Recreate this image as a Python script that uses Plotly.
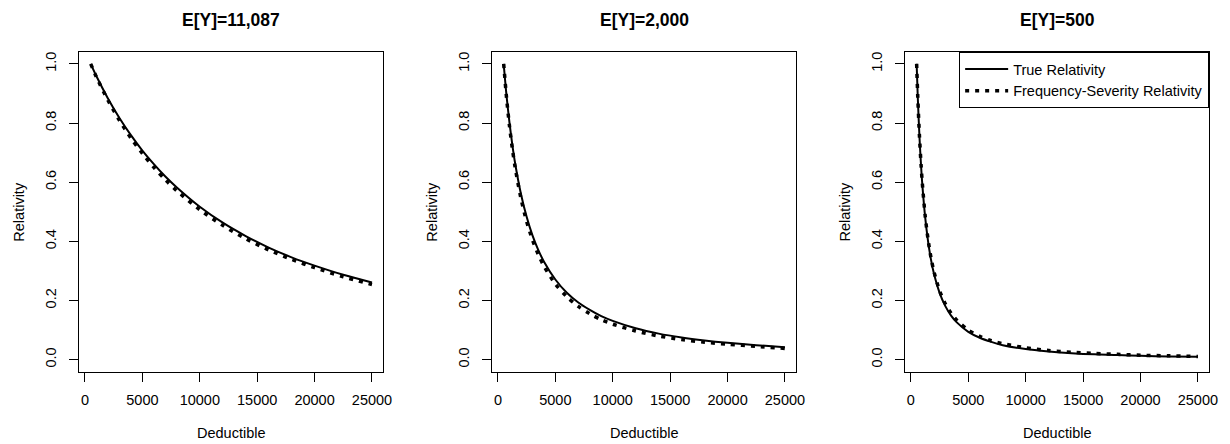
import plotly.graph_objects as go

# ---- data ----
titles = ["E[Y]=11,087", "E[Y]=2,000", "E[Y]=500"]

ded1 = [500, 1000, 2000, 3000, 4000, 5000, 6000, 7000, 8000, 10000, 12000, 14000,
        16000, 18000, 20000, 22500, 25000]
true1 = [1.000, 0.958, 0.883, 0.817, 0.759, 0.707, 0.661, 0.619, 0.582, 0.517, 0.463,
         0.418, 0.379, 0.346, 0.318, 0.287, 0.261]
fs1 = [1.000, 0.955, 0.877, 0.809, 0.749, 0.697, 0.650, 0.608, 0.571, 0.507, 0.454,
       0.409, 0.371, 0.339, 0.311, 0.280, 0.254]

ded2 = [500, 750, 1000, 1250, 1500, 2000, 2500, 3000, 3500, 4000, 5000, 6000, 7000,
        8000, 9000, 10000, 12000, 14000, 16000, 18000, 20000, 22500, 25000]
true2 = [1.000, 0.892, 0.803, 0.727, 0.663, 0.561, 0.483, 0.421, 0.372, 0.332, 0.271,
         0.226, 0.193, 0.168, 0.147, 0.131, 0.106, 0.088, 0.075, 0.065, 0.057, 0.049, 0.042]
fs2 = [1.000, 0.885, 0.792, 0.715, 0.650, 0.546, 0.467, 0.406, 0.357, 0.317, 0.256,
       0.213, 0.180, 0.155, 0.135, 0.120, 0.097, 0.080, 0.068, 0.059, 0.052, 0.045, 0.038]

ded3 = [500, 600, 750, 900, 1000, 1250, 1500, 1750, 2000, 2500, 3000, 3500, 4000, 5000,
        6000, 7000, 8000, 10000, 12000, 14000, 16000, 18000, 20000, 22500, 25000]
true3 = [1.000, 0.886, 0.750, 0.646, 0.589, 0.479, 0.399, 0.338, 0.292, 0.226, 0.181,
         0.149, 0.126, 0.094, 0.074, 0.060, 0.049, 0.036, 0.028, 0.022, 0.018, 0.016,
         0.013, 0.011, 0.010]
fs3 = [1.000, 0.887, 0.753, 0.650, 0.594, 0.484, 0.405, 0.345, 0.299, 0.233, 0.189,
       0.157, 0.133, 0.100, 0.079, 0.064, 0.054, 0.040, 0.031, 0.025, 0.021, 0.018,
       0.015, 0.013, 0.011]

x_ticks = [0, 5000, 10000, 15000, 20000, 25000]
y_ticks = [0.0, 0.2, 0.4, 0.6, 0.8, 1.0]
y_tick_labels = ["0.0", "0.2", "0.4", "0.6", "0.8", "1.0"]
legend_names = ["True Relativity", "Frequency-Severity Relativity"]

panels = [(ded1, true1, fs1), (ded2, true2, fs2), (ded3, true3, fs3)]

# ---- layout geometry (page body adds an 8px margin, compensate) ----
OFF = 8
W, H = 1230, 444
FONT = "Liberation Sans, Arial, Helvetica, sans-serif"
FS = 14.5
box_left = [80 - OFF, 496 - OFF, 912 - OFF]
box_w = 306
box_top, box_bot = 52 - OFF, 371.5 - OFF

fig = go.Figure()
for i, (d, t, f) in enumerate(panels):
    ax = "" if i == 0 else str(i + 1)
    show = (i == 2)
    fig.add_trace(go.Scatter(x=d, y=t, mode="lines", name=legend_names[0],
                             line=dict(color="black", width=2, shape="spline", smoothing=0.8),
                             xaxis="x" + ax, yaxis="y" + ax, showlegend=show,
                             hoverinfo="skip"))
    fig.add_trace(go.Scatter(x=d, y=f, mode="lines", name=legend_names[1],
                             line=dict(color="black", width=3.5, dash="4px,6px",
                                       shape="spline", smoothing=0.8),
                             xaxis="x" + ax, yaxis="y" + ax, showlegend=show,
                             hoverinfo="skip"))

layout = dict(
    width=W, height=H,
    margin=dict(l=0, r=0, t=0, b=0),
    paper_bgcolor="white", plot_bgcolor="white",
    font=dict(family=FONT, size=FS, color="black"),
    showlegend=True,
    legend=dict(x=(box_left[2] + box_w) / W, xanchor="right",
                y=1 - box_top / H, yanchor="top",
                bgcolor="white", bordercolor="black", borderwidth=1,
                font=dict(size=FS, family=FONT, color="black"),
                tracegroupgap=0, itemwidth=43),
    annotations=[],
)

for i in range(3):
    ax = "" if i == 0 else str(i + 1)
    x0 = box_left[i] / W
    x1 = (box_left[i] + box_w) / W
    layout["xaxis" + ax] = dict(
        domain=[x0, x1], anchor="y" + ax, range=[-480, 25980],
        tickvals=x_ticks, ticktext=[str(v) for v in x_ticks],
        ticks="outside", ticklen=9, tickwidth=1, tickcolor="black",
        showline=True, linecolor="black", linewidth=1, mirror=True,
        showgrid=False, zeroline=False, ticklabelstandoff=6,
        tickfont=dict(size=FS, family=FONT, color="black"),
    )
    layout["yaxis" + ax] = dict(
        domain=[1 - box_bot / H, 1 - box_top / H], anchor="x" + ax, range=[-0.04, 1.04],
        tickvals=y_ticks, ticktext=y_tick_labels, tickangle=-90,
        ticks="outside", ticklen=9, tickwidth=1, tickcolor="black",
        showline=True, linecolor="black", linewidth=1, mirror=True,
        showgrid=False, zeroline=False, ticklabelstandoff=8,
        tickfont=dict(size=FS, family=FONT, color="black"),
    )
    cx = (box_left[i] + box_w / 2) / W
    layout["annotations"].append(dict(
        text="<b>" + titles[i] + "</b>", x=cx, y=1.0, xref="paper", yref="paper",
        xanchor="center", yanchor="top", showarrow=False,
        font=dict(size=17.5, family=FONT, color="black")))
    layout["annotations"].append(dict(
        text="Deductible", x=cx, y=1 - (433 - OFF) / H, xref="paper", yref="paper",
        xanchor="center", yanchor="middle", showarrow=False,
        font=dict(size=FS, family=FONT, color="black")))
    layout["annotations"].append(dict(
        text="Relativity", x=(box_left[i] - 61) / W, y=1 - ((box_top + box_bot) / 2) / H,
        xref="paper", yref="paper", xanchor="center", yanchor="middle",
        textangle=-90, showarrow=False,
        font=dict(size=FS, family=FONT, color="black")))

fig.update_layout(**layout)
fig.write_html("out.html")
